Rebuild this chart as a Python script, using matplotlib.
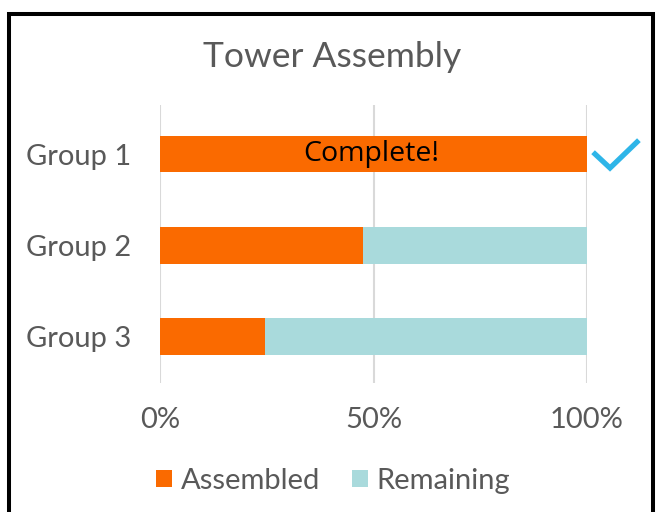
import matplotlib
matplotlib.use("Agg")
import matplotlib.pyplot as plt
from matplotlib.patches import Rectangle
from matplotlib.lines import Line2D

categories = ["Group 1", "Group 2", "Group 3"]
assembled = [100, 47.5, 24.5]
remaining = [0, 52.5, 75.5]
xticks = [0, 50, 100]
xtick_labels = ["0%", "50%", "100%"]
title = "Tower Assembly"
annotation = "Complete!"

ORANGE = "#FA6A00"
TEAL = "#A9DADC"
GRAY = "#595959"
FONT = ["Lato", "DejaVu Sans"]

W, H = 656, 512
fig = plt.figure(figsize=(W / 100, H / 100), dpi=100)
ax = fig.add_axes([160 / W, 1 - 383 / H, (587 - 160) / W, (383 - 105) / H])

ypos = list(range(len(categories)))
ax.barh(ypos, assembled, height=0.4, color=ORANGE, label="Assembled", zorder=2)
ax.barh(ypos, remaining, left=assembled, height=0.4, color=TEAL, label="Remaining", zorder=2)

ax.set_xlim(0, 100)
ax.set_ylim(2.51, -0.54)
ax.set_yticks(ypos)
ax.set_yticklabels(categories, fontsize=21, color=GRAY, family=FONT)
ax.set_xticks(xticks)
ax.set_xticklabels(xtick_labels, fontsize=21, color=GRAY, family=FONT)
ax.tick_params(axis="both", length=0)
ax.tick_params(axis="y", pad=21)
ax.tick_params(axis="x", pad=17)
for s in ax.spines.values():
    s.set_visible(False)
for x in xticks:
    ax.axvline(x, color="#D9D9D9", lw=1.5, zorder=1)

ax.text(49.5, 0, annotation, ha="center", va="center", fontsize=20.5,
        color="black", family=["Open Sans", "DejaVu Sans"], zorder=3)

# check mark
ck = Line2D([595 / W, 610 / W, 637 / W], [1 - 154 / H, 1 - 168 / H, 1 - 142 / H],
            transform=fig.transFigure, color="#2EB5E8", lw=3.8, solid_joinstyle="miter")
fig.add_artist(ck)

fig.text(332 / W, 1 - 57 / H, title, ha="center", va="center", fontsize=25.5,
         color=GRAY, family=FONT)

leg = fig.legend(loc="center", bbox_to_anchor=(333 / W, 1 - 481 / H), ncol=2,
                 frameon=False, prop={"family": FONT, "size": 21},
                 handlelength=0.55, handleheight=0.55, handletextpad=0.3,
                 columnspacing=1.1)
for t in leg.get_texts():
    t.set_color(GRAY)

fig.add_artist(Rectangle((9 / W, -0.1), (653 - 9) / W, 1.1 - 13.5 / H,
                         transform=fig.transFigure, fill=False,
                         edgecolor="black", lw=2.9))

fig.savefig("out.png", dpi=100)
